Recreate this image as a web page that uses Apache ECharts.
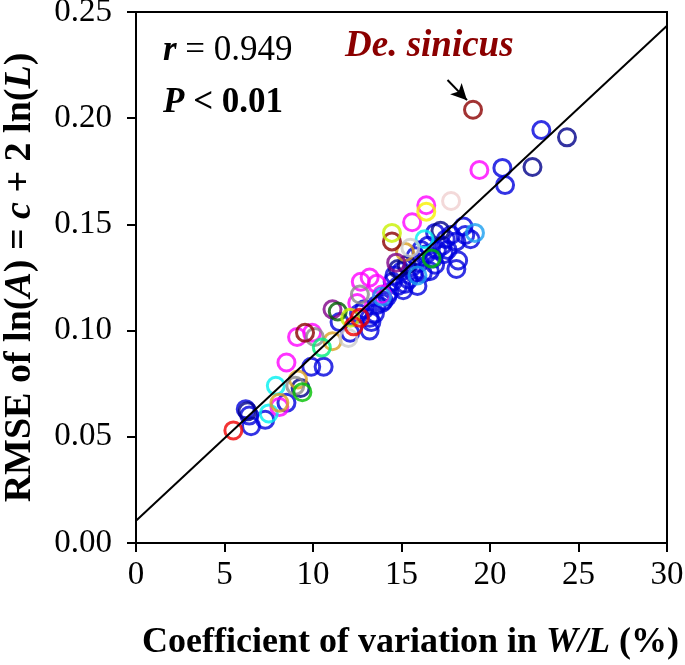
<!DOCTYPE html>
<html><head><meta charset="utf-8">
<script src="https://cdn.jsdelivr.net/npm/echarts@6/dist/echarts.min.js"></script>
<style>html,body{margin:0;padding:0;background:#fff}#c{width:685px;height:665px}</style>
</head><body><div id="c"></div>
<script>
const xTicks = [0,5,10,15,20,25,30];
const yTicks = [0,0.05,0.10,0.15,0.20,0.25];
const fitLine = [[0,0.0105],[30,0.2435]];
const arrowFrom = [17.6,0.218];
const arrowTo = [18.7,0.2085];

const blue = [[6.2,0.063],[6.4,0.060],[6.5,0.055],[7.3,0.058],[8.5,0.066],[9.9,0.083],[10.6,0.083],
 [11.5,0.104],[12.1,0.099],[13.2,0.100],[13.2,0.106],[12.9,0.110],[13.6,0.112],[14.0,0.114],[14.3,0.118],
 [14.8,0.121],[15.0,0.128],[15.4,0.124],[15.6,0.130],[15.9,0.121],[16.2,0.127],[16.6,0.128],[16.8,0.134],
 [17.0,0.138],[17.3,0.140],[17.5,0.143],[17.8,0.145],[18.1,0.142],[18.5,0.149],[18.9,0.143],[18.2,0.133],
 [18.1,0.129],[16.5,0.140],[15.8,0.135],[16.9,0.146],[16.0,0.132],[14.6,0.126],[13.3,0.104],[12.6,0.108],
 [14.2,0.116],[13.9,0.113],[15.2,0.122],[16.4,0.136],[17.6,0.138],[14.5,0.123],[15.7,0.127],[16.9,0.131],
 [17.4,0.136],[18.6,0.145],[16.1,0.138],[15.1,0.119],[13.5,0.108],[20.7,0.1766],[20.85,0.1685],[22.9,0.1944]];
const navy = [[22.4,0.177],[24.35,0.191],[9.3,0.073],[17.2,0.147],[15.3,0.131],[14.8,0.129],[6.3,0.062]];
const magenta = [[8.5,0.085],[8.1,0.064],[9.1,0.097],[9.95,0.099],[12.5,0.113],[12.7,0.123],[13.2,0.125],
 [13.6,0.122],[13.9,0.117],[15.6,0.151],[16.4,0.159],[19.4,0.1756]];
const cyan = [[7.9,0.074],[7.5,0.061],[16.3,0.143]];
const skyblue = [[15.9,0.126],[13.9,0.116],[19.15,0.146]];
const orange = [[8.1,0.066],[9.15,0.077],[11.1,0.095],[15.2,0.137]];
const gray = [[9.0,0.074],[10.1,0.097],[12.65,0.117]];
const lightgray = [[12.0,0.0965],[15.5,0.139]];
const darkred = [[9.55,0.099],[14.46,0.142],[19.04,0.204]];
const purple = [[11.1,0.110],[14.7,0.132]];
const green = [[9.4,0.071],[16.7,0.134]];
const mint = [[10.5,0.092]];
const darkgreen = [[11.4,0.109]];
const yellowgreen = [[12.1,0.106],[14.46,0.146]];
const yellow = [[16.4,0.156]];
const red = [[5.5,0.053],[12.65,0.106],[12.3,0.102]];
const pink = [[17.8,0.161]];

const groups = [
 [blue,'#0000dd'],[navy,'#00008a'],[magenta,'#ff00ff'],[cyan,'#00f0f0'],[skyblue,'#1a9ff0'],
 [orange,'#d9a020'],[gray,'#888888'],[lightgray,'#cccccc'],[darkred,'#8b0000'],[purple,'#800088'],
 [green,'#00c000'],[mint,'#00f07a'],[darkgreen,'#006000'],[yellowgreen,'#c8f000'],[yellow,'#f8f000'],
 [red,'#f00000'],[pink,'#f0d0d0']
];

const FONT = '"Liberation Serif","Times New Roman",serif';
const series = groups.map(g => ({
  type:'scatter', data:g[0], symbol:'circle', symbolSize:17,
  itemStyle:{color:'rgba(0,0,0,0)', borderColor:g[1], borderWidth:3},
  silent:true, z:3
}));
series.push({
  type:'line', data:fitLine, symbol:'none', lineStyle:{color:'#000', width:2}, z:4, silent:true,
  markLine:{silent:true, symbol:['none','arrow'], symbolSize:[12,16],
    lineStyle:{color:'#000', width:2, type:'solid'}, label:{show:false},
    data:[[{coord:arrowFrom},{coord:arrowTo}]]}
});

const chart = echarts.init(document.getElementById('c'), null, {renderer:'canvas'});
chart.setOption({
  animation:false,
  backgroundColor:'#fff',
  grid:{left:136, top:12, width:531, height:531, show:true, borderColor:'#000', borderWidth:2,
        backgroundColor:'transparent', containLabel:false, outerBoundsMode:'none'},
  xAxis:{type:'value', min:0, max:30, interval:5,
    axisLine:{show:true, onZero:false, lineStyle:{color:'#000', width:2}},
    axisTick:{show:true, inside:false, length:9, lineStyle:{color:'#000', width:2}},
    axisLabel:{color:'#000', fontFamily:FONT, fontSize:33, margin:16},
    splitLine:{show:false},
    name:'{b|Coefficient of variation in }{bi|W/L}{b| (%)}', nameLocation:'middle', nameGap:82,
    nameTextStyle:{padding:[0,0,0,18], rich:{b:{fontFamily:FONT, fontWeight:'bold', fontSize:36, color:'#000'},
                         bi:{fontFamily:FONT, fontWeight:'bold', fontStyle:'italic', fontSize:36, color:'#000'}}}
  },
  yAxis:{type:'value', min:0, max:0.25, interval:0.05,
    axisLine:{show:true, onZero:false, lineStyle:{color:'#000', width:2}},
    axisTick:{show:true, inside:false, length:9, lineStyle:{color:'#000', width:2}},
    axisLabel:{color:'#000', fontFamily:FONT, fontSize:33, margin:24, formatter:v=>v.toFixed(2)},
    splitLine:{show:false},
    name:'{b|RMSE of ln(}{bi|A}{b|) = }{bi|c}{b| + 2 ln(}{bi|L}{b|)}', nameLocation:'middle', nameGap:97, nameRotate:90,
    nameTextStyle:{rich:{b:{fontFamily:FONT, fontWeight:'bold', fontSize:38, color:'#000'},
                         bi:{fontFamily:FONT, fontWeight:'bold', fontStyle:'italic', fontSize:38, color:'#000'}}}
  },
  graphic:[
    {type:'text', left:163, top:33, style:{rich:{
       i:{fontFamily:FONT, fontWeight:'bold', fontStyle:'italic', fontSize:35, fill:'#000'},
       n:{fontFamily:FONT, fontSize:35, fill:'#000'}}, text:'{i|r}{n| = 0.949}'}},
    {type:'text', left:163, top:85, style:{rich:{
       i:{fontFamily:FONT, fontWeight:'bold', fontStyle:'italic', fontSize:35, fill:'#000'},
       n:{fontFamily:FONT, fontWeight:'bold', fontSize:35, fill:'#000'}}, text:'{i|P}{n| < 0.01}'}},
    {type:'text', left:345, top:28, style:{text:'De. sinicus', fontFamily:FONT, fontWeight:'bold', fontStyle:'italic', fontSize:37, fill:'#8b0000'}}
  ],
  series:series
});
</script></body></html>
